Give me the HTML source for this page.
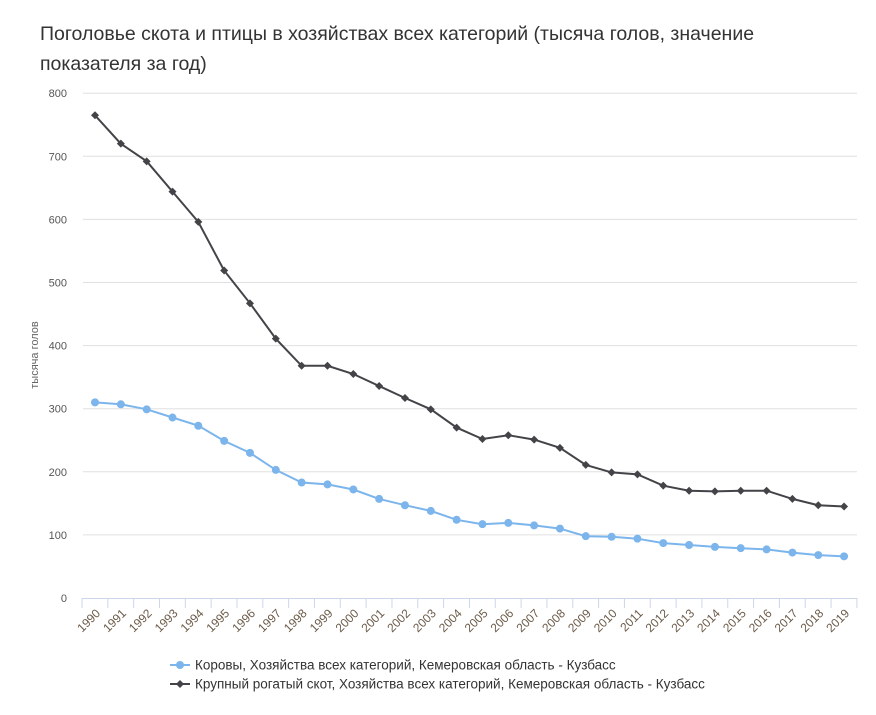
<!DOCTYPE html>
<html><head><meta charset="utf-8"><style>
body{margin:0;background:#fff;width:876px;height:710px;overflow:hidden}
text{font-family:"Liberation Sans","DejaVu Sans",sans-serif}
</style></head><body>
<svg width="876" height="710" xmlns="http://www.w3.org/2000/svg">
<text x="40" y="40" font-size="19.5" fill="#333">Поголовье скота и птицы в хозяйствах всех категорий (тысяча голов, значение</text>
<text x="40" y="70" font-size="19.5" fill="#333">показателя за год)</text>
<g id="grid" stroke="#e0e0e0" stroke-width="1"></g>
<g id="yl" font-size="11" fill="#555" text-anchor="end"></g>
<text transform="translate(38,355) rotate(-90)" font-size="11" fill="#666" text-anchor="middle">тысяча голов</text>
<g id="xa"></g>
<g id="s"></g>
<g font-size="13.5" fill="#333">
<line x1="170" y1="665" x2="190" y2="665" stroke="#7cb5ec" stroke-width="2"/><circle cx="180" cy="665" r="4" fill="#7cb5ec"/>
<text x="195" y="669.5">Коровы, Хозяйства всех категорий, Кемеровская область - Кузбасс</text>
<line x1="170" y1="684" x2="190" y2="684" stroke="#434348" stroke-width="2"/><path d="M180 680L184 684L180 688L176 684Z" fill="#434348"/>
<text x="195" y="688.5">Крупный рогатый скот, Хозяйства всех категорий, Кемеровская область - Кузбасс</text>
</g>
</svg>
<script>
var ns="http://www.w3.org/2000/svg";
function el(p,t,a,tx){var e=document.createElementNS(ns,t);for(var k in a)e.setAttribute(k,a[k]);if(tx!=null)e.textContent=tx;document.getElementById(p).appendChild(e);}
function Y(v){return 598-v*0.631}
for(var v=0;v<=800;v+=100){var y=Y(v);if(v>0)el("grid","line",{x1:83,x2:857,y1:y,y2:y});el("yl","text",{x:67,y:y+4},v);}
el("xa","line",{x1:82,x2:857,y1:598.5,y2:598.5,stroke:"#ccd6eb"});
var st=25.83;
for(var i=0;i<=30;i++){var x=82+i*st;el("xa","line",{x1:x,x2:x,y1:598,y2:608,stroke:"#ccd6eb"});}
for(var i=0;i<30;i++){var x=95+i*st;el("xa","text",{x:x+6,y:614,"font-size":12,fill:"#6b5a48","text-anchor":"end",transform:"rotate(-45 "+(x+6)+" 614)"},1990+i);}
var b=[765,720,692,644,596,519,467,411,368,368,355,336,317,299,270,252,258,251,238,211,199,196,178,170,169,170,170,157,147,145];
var c=[310,307,299,286,273,249,230,203,183,180,172,157,147,138,124,117,119,115,110,98,97,94,87,84,81,79,77,72,68,66];
function pts(a){return a.map(function(v,i){return (95+i*st).toFixed(1)+","+Y(v).toFixed(1)}).join(" ")}
el("s","polyline",{points:pts(c),fill:"none",stroke:"#7cb5ec","stroke-width":2});
c.forEach(function(v,i){el("s","circle",{cx:95+i*st,cy:Y(v),r:4,fill:"#7cb5ec"})});
el("s","polyline",{points:pts(b),fill:"none",stroke:"#434348","stroke-width":2});
b.forEach(function(v,i){var x=95+i*st,y=Y(v);el("s","path",{d:"M"+x+" "+(y-4)+"L"+(x+4)+" "+y+"L"+x+" "+(y+4)+"L"+(x-4)+" "+y+"Z",fill:"#434348"})});
</script>
</body></html>
